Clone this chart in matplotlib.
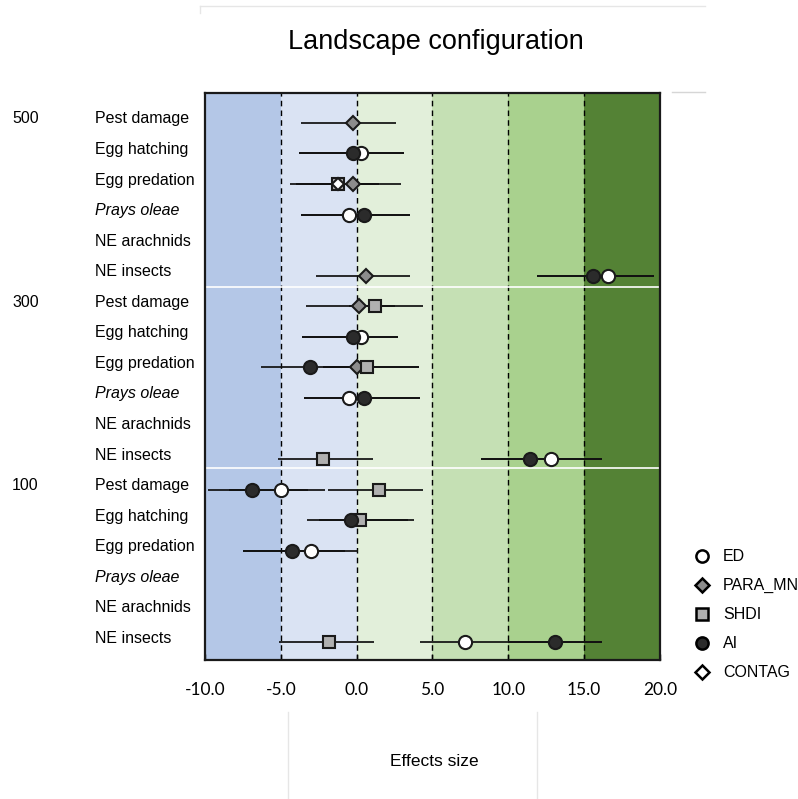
import numpy as np
import matplotlib
matplotlib.use("Agg")
import matplotlib.pyplot as plt
from matplotlib.lines import Line2D
import matplotlib.transforms as mtransforms

# ---------------- data ----------------
groups = ["500", "300", "100"]
responses = ["Pest damage", "Egg hatching", "Egg predation", "Prays oleae", "NE arachnids", "NE insects"]
series_names = ["ED", "PARA_MN", "SHDI", "AI", "CONTAG"]

# row index (0 = top row), effect, lower CI, upper CI
ed_rows = [1, 3, 5, 7, 9, 11, 12, 14, 17]
ed_val = [0.26, -0.49, 16.6, 0.26, -0.53, 12.8, -5.0, -3.03, 7.16]
ed_lo = [-3.8, -3.65, 11.9, -3.6, -3.5, 8.2, -8.4, -7.5, 4.17]
ed_hi = [3.1, 3.5, 19.6, 2.7, 4.2, 16.15, -2.1, 0.1, 16.2]

para_rows = [0, 2, 5, 6, 8]
para_val = [-0.26, -0.24, 0.59, 0.13, 0.0]
para_lo = [-3.7, -3.0, -2.7, -3.34, -2.2]
para_hi = [2.6, 2.9, 3.5, 2.5, 4.1]

shdi_rows = [2, 6, 8, 11, 12, 13, 17]
shdi_val = [-1.23, 1.18, 0.66, -2.2, 1.5, 0.22, -1.83]
shdi_lo = [-4.4, -0.5, -2.2, -5.2, -1.87, -2.5, -5.1]
shdi_hi = [1.5, 4.35, 4.1, 1.05, 4.4, 3.78, 1.16]

ai_rows = [1, 3, 5, 7, 8, 9, 11, 12, 13, 14, 17]
ai_val = [-0.26, 0.5, 15.6, -0.26, -3.1, 0.5, 11.4, -6.9, -0.4, -4.25, 13.1]
ai_lo = [-3.8, -3.65, 11.9, -3.6, -6.3, -3.5, 8.2, -9.8, -3.28, -7.5, 10.0]
ai_hi = [3.1, 3.5, 19.6, 2.7, 0.1, 4.2, 16.15, -3.2, 3.4, -0.8, 16.2]

contag_rows = [2]
contag_val = [-1.2]
contag_lo = [-4.0]
contag_hi = [1.5]

band_edges = [-10, -5, 0, 5, 10, 15, 20]
band_colors = ["#b4c7e7", "#dae3f3", "#e2efda", "#c5e0b4", "#a9d18e", "#548235"]
xticks = [-10, -5, 0, 5, 10, 15, 20]

# ---------------- figure ----------------
W, H = 798, 799
fig = plt.figure(figsize=(W / 100, H / 100), dpi=100)
ax = fig.add_axes([205 / W, 1 - 660 / H, 455 / W, 567 / H])

for i in range(len(band_colors)):
    ax.axvspan(band_edges[i], band_edges[i + 1], color=band_colors[i], zorder=0, lw=0)
for x in band_edges[1:-1]:
    ax.axvline(x, color="black", ls=(0, (4, 3)), lw=1.0, zorder=1)

for yy in [5.37, 11.3]:
    ax.axhline(yy, color="white", lw=1.2, zorder=1)

styles = [
    (ed_rows, ed_val, ed_lo, ed_hi, dict(marker="o", mfc="white", ms=9.5)),
    (para_rows, para_val, para_lo, para_hi, dict(marker="D", mfc="#8c8c8c", ms=7.5)),
    (shdi_rows, shdi_val, shdi_lo, shdi_hi, dict(marker="s", mfc="#b0b0b0", ms=9)),
    (ai_rows, ai_val, ai_lo, ai_hi, dict(marker="o", mfc="#2b2b2b", ms=9.5)),
    (contag_rows, contag_val, contag_lo, contag_hi, dict(marker="D", mfc="white", ms=6)),
]
legend_ms = [8.8, 7.0, 8.3, 8.8, 7.0]

handles = []
for k, (rows, vals, lo, hi, st) in enumerate(styles):
    vals = np.array(vals)
    err = np.vstack([vals - np.array(lo), np.array(hi) - vals])
    ax.errorbar(vals, rows, xerr=err, fmt="none", ecolor="#111111", elinewidth=1.25,
                capsize=0, zorder=2)
    ax.plot(vals, rows, ls="none", mec="#1a1a1a", mew=1.5, zorder=3 + k, **st)
    handles.append(Line2D([], [], ls="none", mec="black", mew=1.8, label=series_names[k],
                          **{**st, "ms": legend_ms[k]}))

ax.set_xlim(-10, 20)
ax.set_ylim(17.58, -0.98)
ax.set_yticks([])
ax.set_xticks(xticks)
ax.set_xticklabels([f"{v:.1f}" for v in xticks], fontfamily="Lato", fontsize=12.5)
ax.tick_params(axis="x", direction="in", length=4, width=1, pad=16)
for s in ax.spines.values():
    s.set_linewidth(1.6)
    s.set_color("#1a1a1a")

# row labels
trans = mtransforms.blended_transform_factory(fig.transFigure, ax.transData)
labels_font = "Liberation Sans"
for g, grp in enumerate(groups):
    ax.text(12 / W, g * 6 - 0.13, grp, transform=trans, fontsize=11.5, family=labels_font,
            va="center", ha="left")
    for r, resp in enumerate(responses):
        style = "italic" if resp == "Prays oleae" else "normal"
        ax.text(95 / W, g * 6 + r - 0.13, resp, transform=trans, fontsize=11.5,
                family=labels_font, va="center", ha="left", style=style)

fig.text(436 / W, 1 - 42 / H, "Landscape configuration", fontsize=19.5, family=labels_font,
         ha="center", va="center")
fig.text(434 / W, 1 - 761 / H, "Effects size", fontsize=12.5, family=labels_font,
         ha="center", va="center")

fig.legend(handles=handles, loc="upper left", bbox_to_anchor=(688 / W, 1 - 543 / H),
           frameon=False, prop={"family": labels_font, "size": 11.5},
           labelspacing=0.87, handlelength=1.0, handletextpad=0.8, borderaxespad=0)

# faint frame remnants
faint = "#e6e6e6"
fig.add_artist(Line2D([200 / W, 705 / W], [1 - 6 / H, 1 - 6 / H], color=faint, lw=1))
fig.add_artist(Line2D([200 / W, 200 / W], [1 - 6 / H, 1 - 13 / H], color=faint, lw=1))
fig.add_artist(Line2D([672 / W, 705 / W], [1 - 92 / H, 1 - 92 / H], color="#d6d6d6", lw=1))
fig.add_artist(Line2D([288 / W, 288 / W], [1 - 712 / H, 0], color=faint, lw=1))
fig.add_artist(Line2D([537 / W, 537 / W], [1 - 712 / H, 0], color=faint, lw=1))

fig.savefig("out.png", dpi=100)
